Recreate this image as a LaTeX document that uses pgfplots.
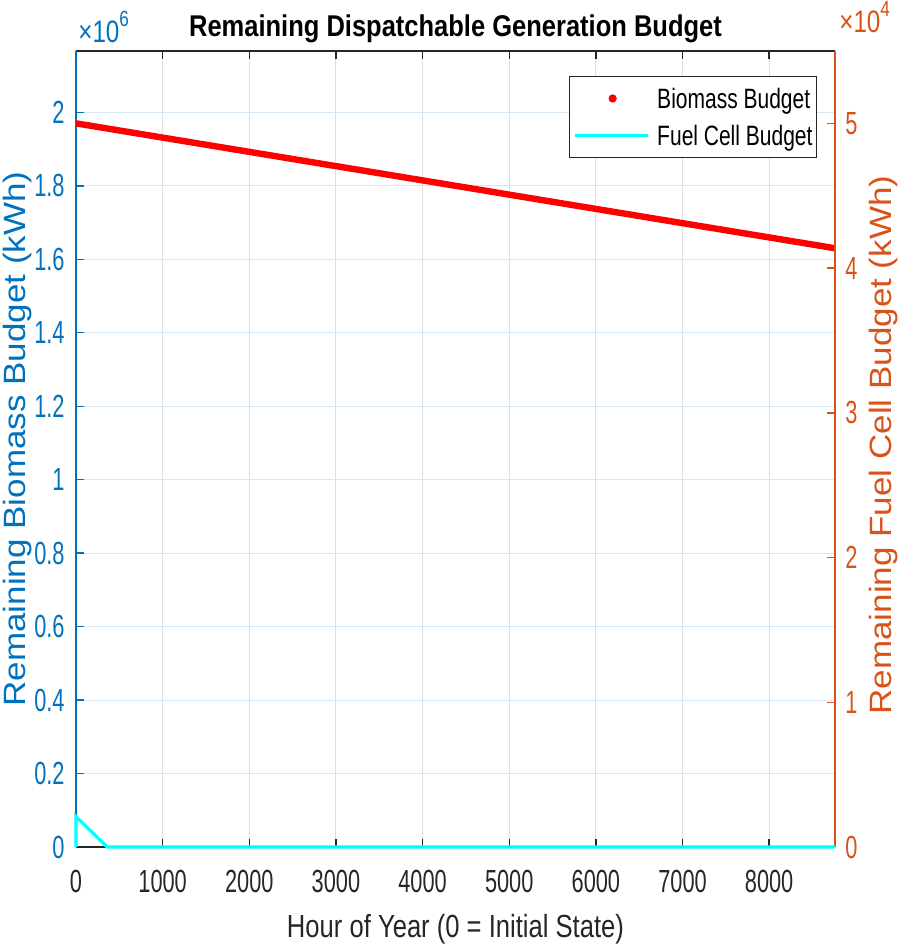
\documentclass[border=0pt]{standalone}
\usepackage{pgfplots}
\pgfplotsset{compat=1.18}
\usepackage{fontspec}
\setmainfont{Liberation Sans}
\newfontfamily\tickfont[FakeStretch=0.68]{Liberation Sans}
\newfontfamily\legfont[FakeStretch=0.75]{Liberation Sans}
\newfontfamily\labfont[FakeStretch=0.80]{Liberation Sans}
\newfontfamily\titfont[FakeStretch=0.85]{Liberation Sans}
\newfontfamily\scalefont[FakeStretch=0.78]{Liberation Sans}
\definecolor{mblue}{RGB}{0,114,189}
\definecolor{morange}{RGB}{217,83,25}
\definecolor{axgray}{RGB}{38,38,38}
\definecolor{gridgray}{RGB}{223,223,223}
\definecolor{gridblue}{RGB}{214,232,245}
\definecolor{mcyan}{RGB}{0,255,255}
\definecolor{mred}{RGB}{255,0,0}
\begin{document}
\begin{tikzpicture}
\begin{axis}[
  scale only axis, width=379.5pt, height=398pt,
  xmin=0, xmax=8760, ymin=0, ymax=2167000,
  xtick={0,1000,2000,3000,4000,5000,6000,7000,8000},
  ytick={0,200000,400000,600000,800000,1000000,1200000,1400000,1600000,1800000,2000000},
  scaled x ticks=false,
  scaled y ticks=base 10:-6,
  ytick scale label code/.code={},
  /pgf/number format/assume math mode=true,
  /pgf/number format/1000 sep={},
  tick align=inside, major tick length=4pt,
  ytick pos=left,
  separate axis lines,
  x axis line style={axgray, line width=0.7pt},
  y axis line style={mblue, line width=0.7pt},
  x tick style={axgray, line width=0.7pt},
  y tick style={mblue, line width=0.7pt},
  xmajorgrids, ymajorgrids,
  major x grid style={gridgray, line width=0.5pt},
  major y grid style={gridblue, line width=0.5pt},
  xticklabel style={font=\tickfont\fontsize{16}{16}\selectfont, text=axgray, anchor=north, inner sep=0pt, text height=11.5pt, yshift=-11pt},
  yticklabel style={font=\tickfont\fontsize{16}{16}\selectfont, text=mblue, anchor=east, inner sep=0pt, xshift=-5.5pt},
  title={Remaining Dispatchable Generation Budget},
  title style={font=\titfont\bfseries\fontsize{15}{15}\selectfont, text=black, at={(axis description cs:0.5,1)}, anchor=base, inner sep=0pt, yshift=1.25pt},
  xlabel={Hour of Year (0 = Initial State)},
  xlabel style={font=\labfont\fontsize{16}{16}\selectfont, text=axgray, at={(axis description cs:0.5,0)}, anchor=base, inner sep=0pt, yshift=-45pt},
  ylabel={\scalebox{1}[0.88]{Remaining Biomass Budget (kWh)}},
  ylabel style={font=\fontsize{17.5}{17.5}\selectfont, text=mblue, at={(axis description cs:-0.0659,0.5126)}, anchor=base, inner sep=0pt},
  extra description/.code={
    \node[anchor=base west, inner sep=0pt, text=mblue, font=\scalefont\fontsize{15.5}{15.5}\selectfont]
      at ([xshift=1pt,yshift=4pt]rel axis cs:0,1) {×10\raisebox{8pt}{\fontsize{11}{11}\selectfont 6}};
  },
]
\addplot[mred, line width=3.2pt] coordinates {
  (0,1970000) (1000,1931200) (2000,1892400) (3000,1853600) (4000,1814800)
  (5000,1775900) (6000,1737100) (7000,1698300) (8000,1659500) (8760,1630000)};
\end{axis}
\begin{axis}[
  scale only axis, width=379.5pt, height=398pt,
  xmin=0, xmax=8760, ymin=0, ymax=55000,
  hide x axis,
  axis y line*=right,
  ytick={0,10000,20000,30000,40000,50000},
  scaled y ticks=base 10:-4,
  ytick scale label code/.code={},
  /pgf/number format/assume math mode=true,
  tick align=inside, major tick length=4pt,
  y axis line style={morange, line width=0.7pt},
  y tick style={morange, line width=0.7pt},
  yticklabel style={font=\tickfont\fontsize{16}{16}\selectfont, text=morange, anchor=west, inner sep=0pt, xshift=5pt},
  ylabel={\scalebox{1}[0.88]{Remaining Fuel Cell Budget (kWh)}},
  ylabel style={font=\fontsize{17.5}{17.5}\selectfont, text=morange, at={(axis description cs:1.0738,0.505)}, anchor=base, inner sep=0pt},
  extra description/.code={
    \node[anchor=base west, inner sep=0pt, text=morange, font=\scalefont\fontsize{15.5}{15.5}\selectfont]
      at ([xshift=2pt,yshift=9pt]rel axis cs:1,1) {×10\raisebox{8pt}{\fontsize{11}{11}\selectfont 4}};
  },
  clip=false,
  legend cell align=left,
  legend style={at={(1,1)}, anchor=north east, xshift=-9pt, yshift=-12.5pt, draw=axgray, line width=0.5pt, fill=white, inner xsep=2pt, inner ysep=6pt, row sep=8.5pt, column sep=4pt, font=\legfont\fontsize{14}{14}\selectfont, nodes={inner sep=0pt, text height=10pt, text depth=0pt, text=black}},
]
\addlegendimage{legend image code/.code={\fill[mred] (19pt,0pt) circle (1.8pt);}}
\addlegendentry{Biomass Budget}
\addplot[mcyan, line width=1.6pt, legend image code/.code={\draw[mcyan, line width=1.6pt] (0pt,0pt) -- (36.5pt,0pt);}] coordinates {(0,0) (0,2100) (360,0) (8760,0)};
\addlegendentry{Fuel Cell Budget}
\end{axis}
\pgfresetboundingbox
\path[use as bounding box] (-38pt,-49pt) rectangle (411.5pt,423.5pt);
\end{tikzpicture}
\end{document}
